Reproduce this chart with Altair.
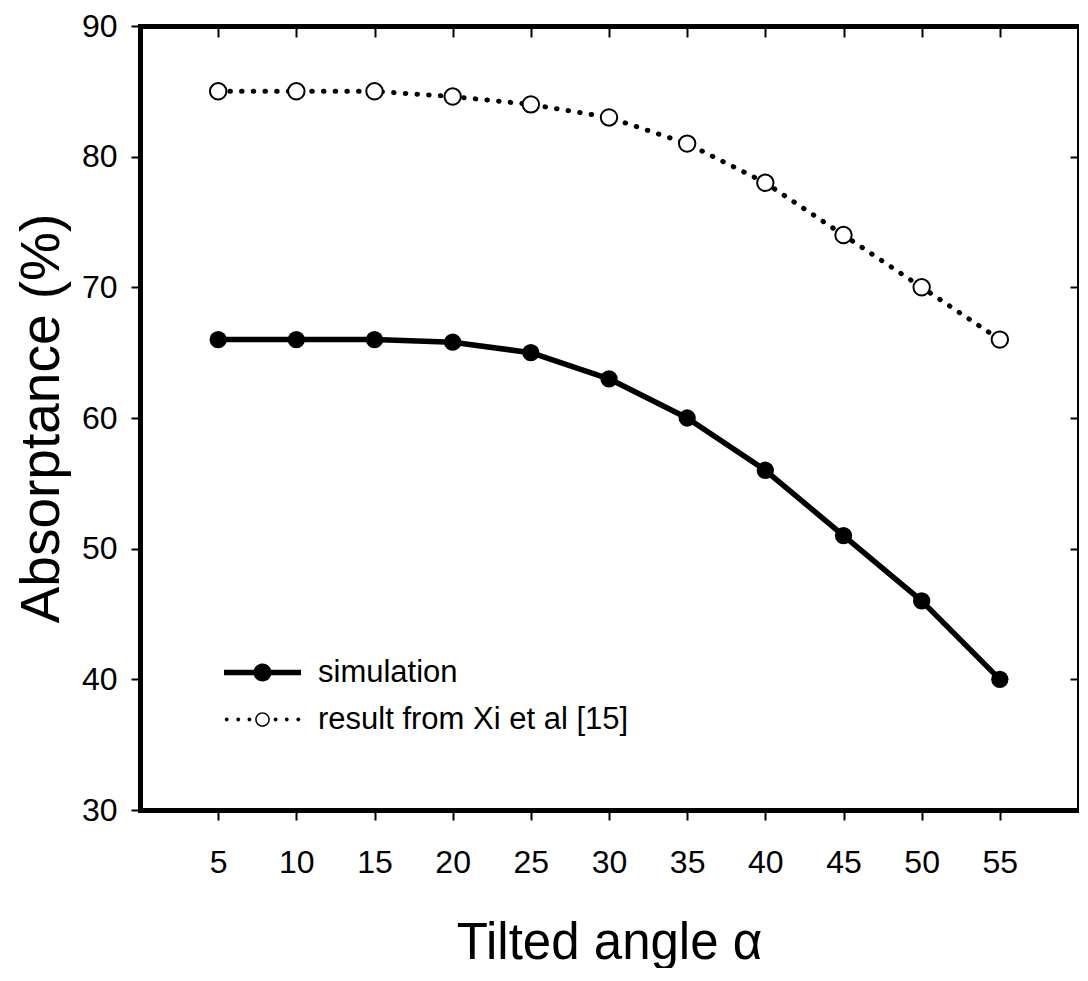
import altair as alt
import pandas as pd

# ---- data ----
angles = [5, 10, 15, 20, 25, 30, 35, 40, 45, 50, 55]
simulation = [66, 66, 66, 65.8, 65, 63, 60, 56, 51, 46, 40]
xi_result = [85, 85, 85, 84.6, 84, 83, 81, 78, 74, 70, 66]
series_names = ["simulation", "result from Xi et al [15]"]
x_ticks = [5, 10, 15, 20, 25, 30, 35, 40, 45, 50, 55]
y_ticks = [30, 40, 50, 60, 70, 80, 90]

df = pd.DataFrame({
    "angle": angles + angles,
    "value": simulation + xi_result,
    "series": [series_names[0]] * len(angles) + [series_names[1]] * len(angles),
})

FONT = "Liberation Sans"


def circ(cx, r, cw=True):
    s = 1 if cw else 0
    return (f"M{cx + r:.4f},0A{r:.4f},{r:.4f},0,1,{s},{cx - r:.4f},0"
            f"A{r:.4f},{r:.4f},0,1,{s},{cx + r:.4f},0Z")


# legend glyphs (unit = sqrt(size)/2 = 31.5 px)
K = 38.5 / 31.5
path_sim = (f"M{-K:.4f},{-0.07 * K:.4f}H{K:.4f}V{0.07 * K:.4f}H{-K:.4f}Z"
            + circ(0, 0.235 * K))
path_xi = circ(0, 0.19 * K) + circ(0, 0.15 * K, cw=False)
for d in (0.34, 0.63, 0.93):
    path_xi += circ(d * K, 0.05 * K) + circ(-d * K, 0.05 * K)

xscale = alt.Scale(domain=[0, 60], nice=False, zero=False)
yscale = alt.Scale(domain=[30, 90], nice=False, zero=False)

ax_bottom = alt.Axis(orient="bottom", values=x_ticks, tickSize=10, tickWidth=2,
                     tickColor="black", domainWidth=5, domainColor="black",
                     domainCap="square", labelFont=FONT, labelFontSize=32,
                     labelColor="black", labelPadding=27, title="Tilted angle α",
                     titleFont=FONT, titleFontSize=51, titleFontWeight="normal",
                     titleColor="black", titlePadding=40, grid=False, format="d")
ax_left = alt.Axis(orient="left", values=y_ticks, tickSize=9, tickWidth=2,
                   tickColor="black", domainWidth=5, domainColor="black",
                   domainCap="square", labelFont=FONT, labelFontSize=32,
                   labelColor="black", labelPadding=14, title="Absorptance (%)",
                   titleFont=FONT, titleFontSize=55, titleFontWeight="normal",
                   titleColor="black", titlePadding=11, grid=False, format="d")
ax_top = alt.Axis(orient="top", values=x_ticks, tickSize=alt.ExprRef(expr="-11"),
                  tickWidth=2, tickColor="black", domainWidth=5, domainColor="black",
                  domainCap="square", labels=False, title=None, grid=False)
ax_right = alt.Axis(orient="right", values=y_ticks, tickSize=alt.ExprRef(expr="-8"),
                    tickWidth=2, tickColor="black", domainWidth=2, domainColor="black",
                    labels=False, title=None, grid=False)

base = alt.Chart(df)

sim_line = base.transform_filter(alt.datum.series == series_names[0]).mark_line(
    color="black", strokeWidth=5.5, strokeJoin="round"
).encode(
    x=alt.X("angle:Q", scale=xscale, axis=ax_bottom),
    y=alt.Y("value:Q", scale=yscale, axis=ax_left),
)

xi_line = base.transform_filter(alt.datum.series == series_names[1]).mark_line(
    color="black", strokeWidth=5, strokeCap="round", strokeDash=[0.5, 11.2]
).encode(
    x=alt.X("angle:Q", scale=xscale, axis=None),
    y=alt.Y("value:Q", scale=yscale, axis=None),
)

sim_pts = base.transform_filter(alt.datum.series == series_names[0]).mark_point(
    shape="circle", filled=True, color="black", size=300, opacity=1
).encode(
    x=alt.X("angle:Q", scale=xscale, axis=None),
    y=alt.Y("value:Q", scale=yscale, axis=None),
)

xi_pts = base.transform_filter(alt.datum.series == series_names[1]).mark_point(
    shape="circle", filled=True, fill="white", stroke="black", strokeWidth=2,
    size=270, opacity=1
).encode(
    x=alt.X("angle:Q", scale=xscale, axis=ax_top),
    y=alt.Y("value:Q", scale=yscale, axis=ax_right),
)

legend_layer = base.transform_filter("false").mark_point(
    filled=True, color="black", opacity=1, size=3969
).encode(
    x=alt.X("angle:Q", scale=xscale, axis=None),
    y=alt.Y("value:Q", scale=yscale, axis=None),
    shape=alt.Shape(
        "series:N",
        scale=alt.Scale(domain=series_names, range=[path_sim, path_xi]),
        legend=alt.Legend(
            title=None, orient="none", legendX=91, legendY=615,
            labelFont=FONT, labelFontSize=31, labelColor="black", labelLimit=600,
            labelOffset=24, rowPadding=0, padding=0,
            symbolSize=3969, symbolStrokeWidth=0, symbolFillColor="black",
        ),
    ),
)

chart = alt.layer(sim_line, xi_line, sim_pts, xi_pts, legend_layer).resolve_axis(
    x="independent", y="independent"
).properties(
    width=938, height=784,
    padding={"left": 6, "top": 2, "right": 0, "bottom": 0},
    background="white",
).configure_view(stroke="black", strokeWidth=2)

chart.save("out.html", embed_options={"renderer": "svg", "actions": False})
